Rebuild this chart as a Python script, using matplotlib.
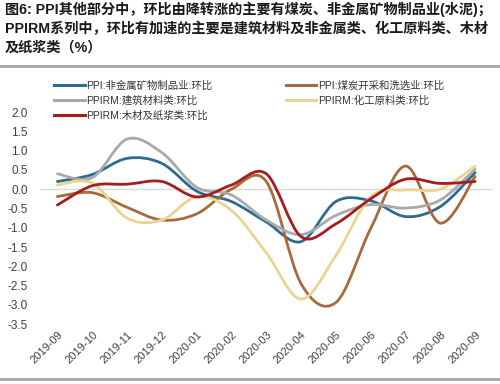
import matplotlib
matplotlib.use("Agg")
import matplotlib.pyplot as plt
from matplotlib.path import Path
from matplotlib.patches import PathPatch
from matplotlib.lines import Line2D

plt.rcParams['font.family'] = ['Liberation Sans', 'Noto Sans CJK SC', 'DejaVu Sans']

# --- datos ---
months = ['2019-09', '2019-10', '2019-11', '2019-12', '2020-01', '2020-02', '2020-03',
          '2020-04', '2020-05', '2020-06', '2020-07', '2020-08', '2020-09']
ppi_nonmetal = [0.2, 0.38, 0.8, 0.67, -0.05, -0.32, -0.85, -1.36, -0.32, -0.3, -0.71, -0.45, 0.43]
ppi_coal = [-0.19, -0.09, -0.47, -0.8, -0.64, 0.0, 0.2, -2.45, -2.94, -1.02, 0.6, -0.88, 0.33]
ppirm_build = [0.4, 0.3, 1.3, 0.95, 0.05, -0.15, -0.8, -1.18, -0.68, -0.4, -0.49, -0.28, 0.52]
ppirm_chem = [0.11, 0.16, -0.75, -0.8, -0.2, -0.55, -1.65, -2.85, -1.72, -0.2, -0.02, 0.0, 0.6]
ppirm_wood = [-0.41, 0.09, 0.13, 0.2, -0.2, 0.11, 0.4, -1.23, -0.9, -0.25, 0.26, 0.15, 0.2]

labels = ['PPI:非金属矿物制品业:环比', 'PPI:煤炭开采和洗选业:环比', 'PPIRM:建筑材料类:环比',
          'PPIRM:化工原料类:环比', 'PPIRM:木材及纸浆类:环比']
colors = ['#2f6b8f', '#a8693c', '#a9a9a9', '#e8d592', '#a31d1f']
series = [ppi_nonmetal, ppi_coal, ppirm_build, ppirm_chem, ppirm_wood]


def smooth_path(ys):
    # curva suavizada tipo Excel (Catmull-Rom -> Bezier)
    pts = list(enumerate(ys))
    verts = [pts[0]]
    codes = [Path.MOVETO]
    n = len(pts)
    for i in range(n - 1):
        p0 = pts[i - 1] if i > 0 else pts[i]
        p1 = pts[i]
        p2 = pts[i + 1]
        p3 = pts[i + 2] if i + 2 < n else pts[i + 1]
        c1 = (p1[0] + (p2[0] - p0[0]) / 6, p1[1] + (p2[1] - p0[1]) / 6)
        c2 = (p2[0] - (p3[0] - p1[0]) / 6, p2[1] - (p3[1] - p1[1]) / 6)
        verts += [c1, c2, p2]
        codes += [Path.CURVE4] * 3
    return Path(verts, codes)


fig = plt.figure(figsize=(5, 3.84), dpi=100)
ax = fig.add_axes([0.08, 0.156, 0.905, 0.552])

ax.axhline(0, color='#d9d9d9', lw=1, zorder=1)
handles = []
for ys, c, lab in zip(series, colors, labels):
    ax.add_patch(PathPatch(smooth_path(ys), fill=False, edgecolor=c, lw=2.0,
                           capstyle='round', joinstyle='round', zorder=3))
    handles.append(Line2D([], [], color=c, lw=2.2, label=lab))

ax.set_xlim(-0.5, len(months) - 0.5)
ax.set_ylim(-3.5, 2.0)
ax.set_xticks(range(len(months)))
ax.set_xticklabels(months, rotation=45, ha='right', rotation_mode='anchor',
                   fontsize=8, color='#404040')
ax.set_yticks([2.0, 1.5, 1.0, 0.5, 0.0, -0.5, -1.0, -1.5, -2.0, -2.5, -3.0, -3.5])
ax.set_yticklabels([f"{v:.1f}" for v in ax.get_yticks()], fontsize=8.5, color='#404040')
ax.tick_params(length=0, axis='y', pad=9)
ax.tick_params(length=0, axis='x', pad=4)
for s in ax.spines.values():
    s.set_visible(False)

# leyenda en dos columnas
order = [0, 2, 4, 1, 3]
fig.legend([handles[i] for i in order], [labels[i] for i in order], ncol=2,
           loc='upper left', bbox_to_anchor=(0.09, 0.815), frameon=False,
           fontsize=7.5, handlelength=2.9, handletextpad=0.15, columnspacing=7.1,
           labelspacing=0.45, labelcolor='#333333')

# título
title = ("图6: PPI其他部分中，环比由降转涨的主要有煤炭、非金属矿物制品业(水泥)；\n"
         "PPIRM系列中，环比有加速的主要是建筑材料及非金属类、化工原料类、木材\n"
         "及纸浆类（%）")
fig.text(0.01, 0.995, title, ha='left', va='top', fontsize=10.2, fontweight='bold',
         color='#1a1a1a', linespacing=1.4)

fig.add_artist(Line2D([0, 1], [0.828, 0.828], transform=fig.transFigure, color='#a6a6a6', lw=2))
fig.add_artist(Line2D([0, 1], [0.013, 0.013], transform=fig.transFigure, color='#a6a6a6', lw=2))

fig.savefig('out.png', dpi=100)
